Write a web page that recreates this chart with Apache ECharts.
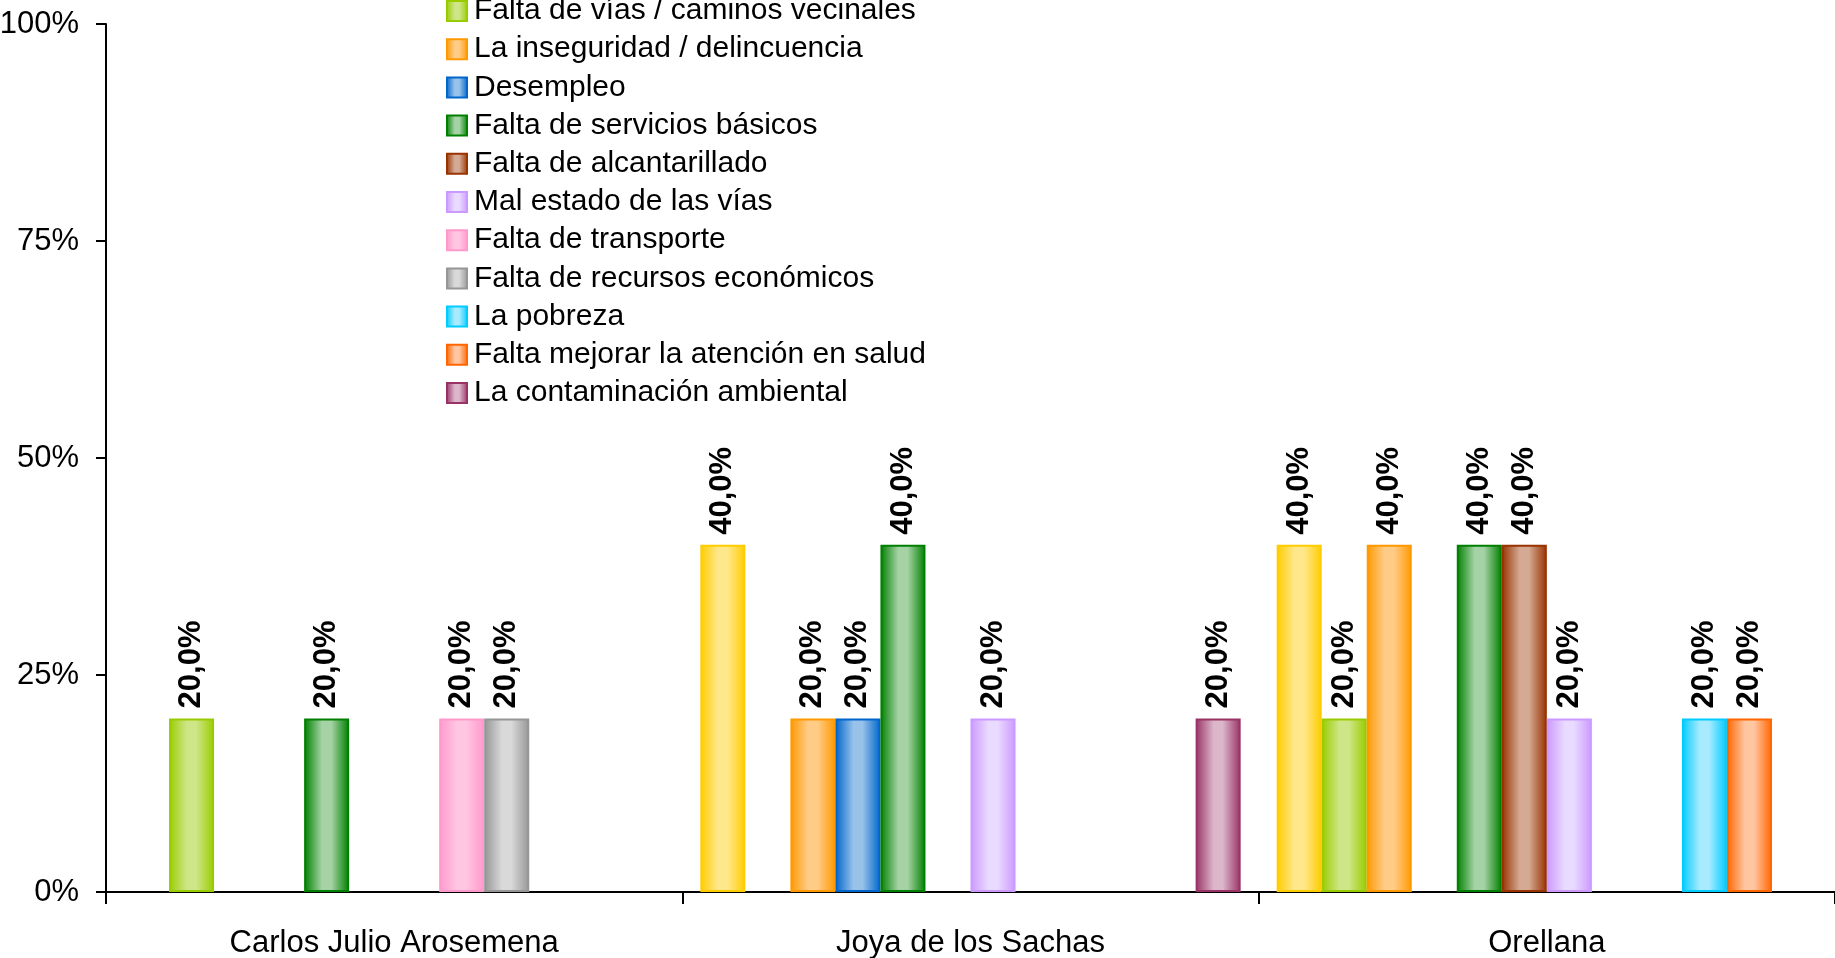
<!DOCTYPE html>
<html>
<head>
<meta charset="utf-8">
<script src="https://cdn.jsdelivr.net/npm/echarts@6/dist/echarts.min.js"></script>
<style>
html,body{margin:0;padding:0;background:#fff;}
#c{width:1835px;height:958px;}
</style>
</head>
<body>
<div id="c"></div>
<script>
var categories = ['Carlos Julio Arosemena', 'Joya de los Sachas', 'Orellana'];
var seriesNames = [
  'Otros problemas',
  'Falta de vías / caminos vecinales',
  'La inseguridad / delincuencia',
  'Desempleo',
  'Falta de servicios básicos',
  'Falta de alcantarillado',
  'Mal estado de las vías',
  'Falta de transporte',
  'Falta de recursos económicos',
  'La pobreza',
  'Falta mejorar la atención en salud',
  'La contaminación ambiental'
];
var valOtros        = [0, 40, 40];
var valVias         = [20, 0, 20];
var valInseguridad  = [0, 20, 40];
var valDesempleo    = [0, 20, 0];
var valServicios    = [20, 40, 40];
var valAlcantarillado = [0, 0, 40];
var valMalEstado    = [0, 20, 20];
var valTransporte   = [20, 0, 0];
var valRecursos     = [20, 0, 0];
var valPobreza      = [0, 0, 20];
var valSalud        = [0, 0, 20];
var valContaminacion = [0, 20, 0];
var yTicks = [0, 25, 50, 75, 100];

var allValues = [valOtros, valVias, valInseguridad, valDesempleo, valServicios, valAlcantarillado,
  valMalEstado, valTransporte, valRecursos, valPobreza, valSalud, valContaminacion];
var baseColors = ['#FFCC00','#99CC00','#FF9900','#0066CC','#008000','#993300','#CC99FF','#FF99CC','#969696','#00CCFF','#FF6600','#993366'];
var lightColors = ['#FFE88C','#CEE688','#FFCC88','#99C2EA','#A6D3A6','#D4AA94','#E9DAFF','#FFC6E2','#D9D9D9','#A8EBFF','#FFC6A2','#DCB6CA'];

var series = allValues.map(function (vals, i) {
  return {
    name: seriesNames[i],
    type: 'bar',
    barGap: '0%',
    barCategoryGap: '6.25%',
    data: vals.map(function (v) { return v === 0 ? null : v; }),
    itemStyle: {
      color: {
        type: 'linear', x: 0, y: 0, x2: 1, y2: 0,
        colorStops: [
          {offset: 0, color: baseColors[i]},
          {offset: 0.4, color: lightColors[i]},
          {offset: 0.6, color: lightColors[i]},
          {offset: 1, color: baseColors[i]}
        ]
      },
      borderColor: baseColors[i],
      borderWidth: 2
    },
    label: {
      show: true,
      position: 'top',
      rotate: 90,
      align: 'left',
      verticalAlign: 'middle',
      distance: 10,
      fontFamily: 'Liberation Sans',
      fontWeight: 'bold',
      fontSize: 31,
      color: '#000',
      formatter: function (p) { return p.value.toFixed(1).replace('.', ',') + '%'; }
    }
  };
});

var chart = echarts.init(document.getElementById('c'), null, {renderer: 'canvas'});
chart.setOption({
  animation: false,
  backgroundColor: '#fff',
  textStyle: {fontFamily: 'Liberation Sans'},
  grid: {left: 106, right: 0, top: 24, bottom: 66, containLabel: false, outerBoundsMode: 'none'},
  legend: {
    orient: 'vertical',
    left: 446,
    top: -4,
    padding: 0,
    itemGap: 8.2,
    itemWidth: 20,
    itemHeight: 20,
    icon: 'rect',
    data: seriesNames.slice(1),
    textStyle: {fontSize: 30, color: '#000', fontFamily: 'Liberation Sans', lineHeight: 28, padding: [0, 0, 0, 2]},
    itemStyle: {borderWidth: 2}
  },
  xAxis: {
    type: 'category',
    data: categories,
    axisLine: {lineStyle: {color: '#000', width: 2}},
    axisTick: {show: true, alignWithLabel: false, length: 12, lineStyle: {color: '#000', width: 2}},
    axisLabel: {fontSize: 31, color: '#000', margin: 36, fontFamily: 'Liberation Sans'}
  },
  yAxis: {
    type: 'value',
    min: yTicks[0],
    max: yTicks[yTicks.length - 1],
    interval: yTicks[1] - yTicks[0],
    splitLine: {show: false},
    axisLine: {show: true, lineStyle: {color: '#000', width: 2}},
    axisTick: {show: true, length: 10, lineStyle: {color: '#000', width: 2}},
    axisLabel: {fontSize: 31, color: '#000', margin: 27, fontFamily: 'Liberation Sans', formatter: '{value}%'}
  },
  series: series
});
</script>
</body>
</html>
